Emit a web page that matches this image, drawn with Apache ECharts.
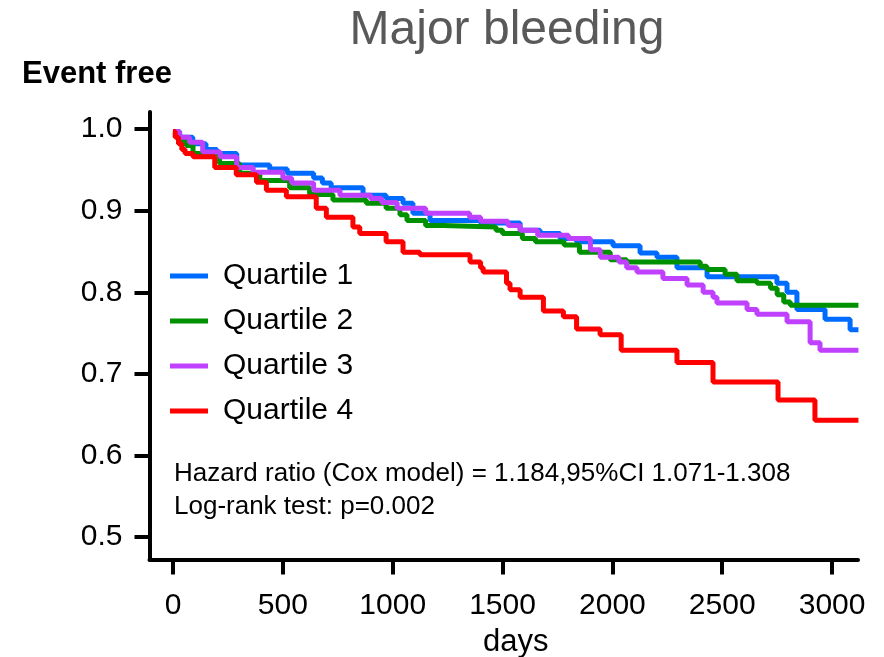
<!DOCTYPE html>
<html>
<head>
<meta charset="utf-8">
<title>Major bleeding</title>
<script src="https://cdn.jsdelivr.net/npm/echarts@6/dist/echarts.min.js"></script>
<style>
  html, body { margin: 0; padding: 0; background: #fff; }
  #main { width: 884px; height: 657px; }
</style>
</head>
<body>
<div id="main"></div>
<script>
// Kaplan-Meier steps: [day, event-free fraction] (value holds from that day on)
var q1Steps = [[0,0.997],[30,0.99],[90,0.982],[150,0.975],[200,0.97],[290,0.956],[440,0.951],[520,0.946],[640,0.94],[680,0.934],[720,0.928],[865,0.919],[970,0.915],[1047,0.909],[1092,0.897],[1170,0.888],[1400,0.885],[1580,0.876],[1671,0.872],[1762,0.866],[1837,0.862],[2003,0.857],[2126,0.848],[2203,0.843],[2294,0.83],[2431,0.819],[2749,0.811],[2795,0.80],[2840,0.779],[2968,0.767],[3082,0.754],[3120,0.754]];
var q2Steps = [[0,0.997],[20,0.99],[45,0.985],[60,0.98],[91,0.97],[212,0.958],[303,0.946],[395,0.937],[531,0.928],[622,0.92],[728,0.913],[880,0.909],[970,0.903],[1033,0.895],[1065,0.888],[1150,0.882],[1230,0.88],[1470,0.876],[1500,0.872],[1590,0.866],[1650,0.862],[1780,0.858],[1850,0.849],[1990,0.84],[2065,0.837],[2400,0.832],[2430,0.828],[2513,0.822],[2567,0.814],[2658,0.811],[2720,0.805],[2750,0.797],[2780,0.788],[2810,0.784],[3120,0.784]];
var q3Steps = [[0,0.997],[30,0.99],[75,0.984],[135,0.972],[215,0.966],[290,0.953],[365,0.947],[500,0.94],[540,0.934],[640,0.925],[760,0.919],[900,0.915],[950,0.91],[1020,0.903],[1150,0.897],[1350,0.892],[1400,0.887],[1525,0.882],[1580,0.876],[1660,0.87],[1800,0.866],[1900,0.852],[1945,0.843],[2030,0.837],[2065,0.83],[2112,0.825],[2230,0.817],[2340,0.809],[2413,0.80],[2458,0.794],[2476,0.787],[2613,0.779],[2658,0.773],[2795,0.764],[2900,0.738],[2945,0.729],[3120,0.729]];
var q4Steps = [[0,0.997],[10,0.99],[25,0.982],[40,0.975],[55,0.97],[91,0.966],[190,0.953],[288,0.944],[380,0.935],[425,0.925],[516,0.917],[652,0.903],[698,0.892],[819,0.88],[850,0.872],[970,0.862],[1047,0.849],[1124,0.846],[1352,0.837],[1400,0.83],[1412,0.825],[1518,0.811],[1534,0.803],[1580,0.794],[1686,0.777],[1777,0.77],[1837,0.755],[1944,0.748],[2040,0.729],[2294,0.714],[2458,0.69],[2754,0.668],[2922,0.643],[3120,0.643]];

var seriesNames = ['Quartile 1', 'Quartile 2', 'Quartile 3', 'Quartile 4'];
var seriesColors = ['#006cff', '#009100', '#c040ff', '#ff0000'];
var xTicks = [0, 500, 1000, 1500, 2000, 2500, 3000];
var yTicks = [0.5, 0.6, 0.7, 0.8, 0.9, 1.0];
var statsText = ['Hazard ratio (Cox model) = 1.184,95%CI 1.071-1.308', 'Log-rank test: p=0.002'];

var font = '"Liberation Sans", Arial, sans-serif';
var chart = echarts.init(document.getElementById('main'));

var allSteps = [q1Steps, q2Steps, q3Steps, q4Steps];
var series = allSteps.map(function (d, i) {
  return {
    name: seriesNames[i],
    type: 'line',
    step: 'end',
    data: d,
    showSymbol: false,
    symbol: 'none',
    lineStyle: { width: 5, color: seriesColors[i] },
    itemStyle: { color: seriesColors[i] },
    z: 2 + i,
    animation: false
  };
});

chart.setOption({
  backgroundColor: '#fff',
  animation: false,
  title: {
    text: 'Major bleeding',
    left: 502,
    textAlign: 'center',
    top: 2,
    textStyle: { fontFamily: font, fontSize: 48, fontWeight: 'normal', color: '#595959' }
  },
  legend: {
    orient: 'vertical',
    left: 165,
    top: 256,
    icon: 'rect',
    itemWidth: 38,
    itemHeight: 5,
    itemGap: 15,
    data: seriesNames,
    textStyle: { fontFamily: font, fontSize: 30, color: '#000', lineHeight: 30, padding: [0, 0, 0, 10] }
  },
  grid: { left: 149.5, right: 26, top: 112, bottom: 97.5 },
  xAxis: {
    type: 'value',
    min: -107,
    max: 3118,
    splitLine: { show: false },
    axisLine: { onZero: false, lineStyle: { color: '#000', width: 4 } },
    axisTick: { customValues: xTicks, length: 15, lineStyle: { color: '#000', width: 4 } },
    axisLabel: {
      customValues: xTicks, margin: 31, fontFamily: font, fontSize: 30, color: '#000',
      formatter: function (v) { return String(v); }
    }
  },
  yAxis: {
    type: 'value',
    min: 0.4724,
    max: 1.021,
    splitLine: { show: false },
    axisLine: { show: true, onZero: false, lineStyle: { color: '#000', width: 4 } },
    axisTick: { show: true, customValues: yTicks, length: 15, lineStyle: { color: '#000', width: 4 } },
    axisLabel: {
      customValues: yTicks, margin: 27, fontFamily: font, fontSize: 30, color: '#000',
      formatter: function (v) { return v.toFixed(1); }
    }
  },
  graphic: [
    { type: 'text', left: 22, top: 59, style: { text: 'Event free', font: 'bold 31px ' + font, fill: '#000' } },
    { type: 'text', left: 483, top: 627, style: { text: 'days', font: '31px ' + font, fill: '#000' } },
    { type: 'text', left: 174, top: 461, style: { text: statsText[0], font: '26px ' + font, fill: '#000' } },
    { type: 'text', left: 174, top: 494, style: { text: statsText[1], font: '26px ' + font, fill: '#000' } }
  ],
  series: series
});
</script>
</body>
</html>
